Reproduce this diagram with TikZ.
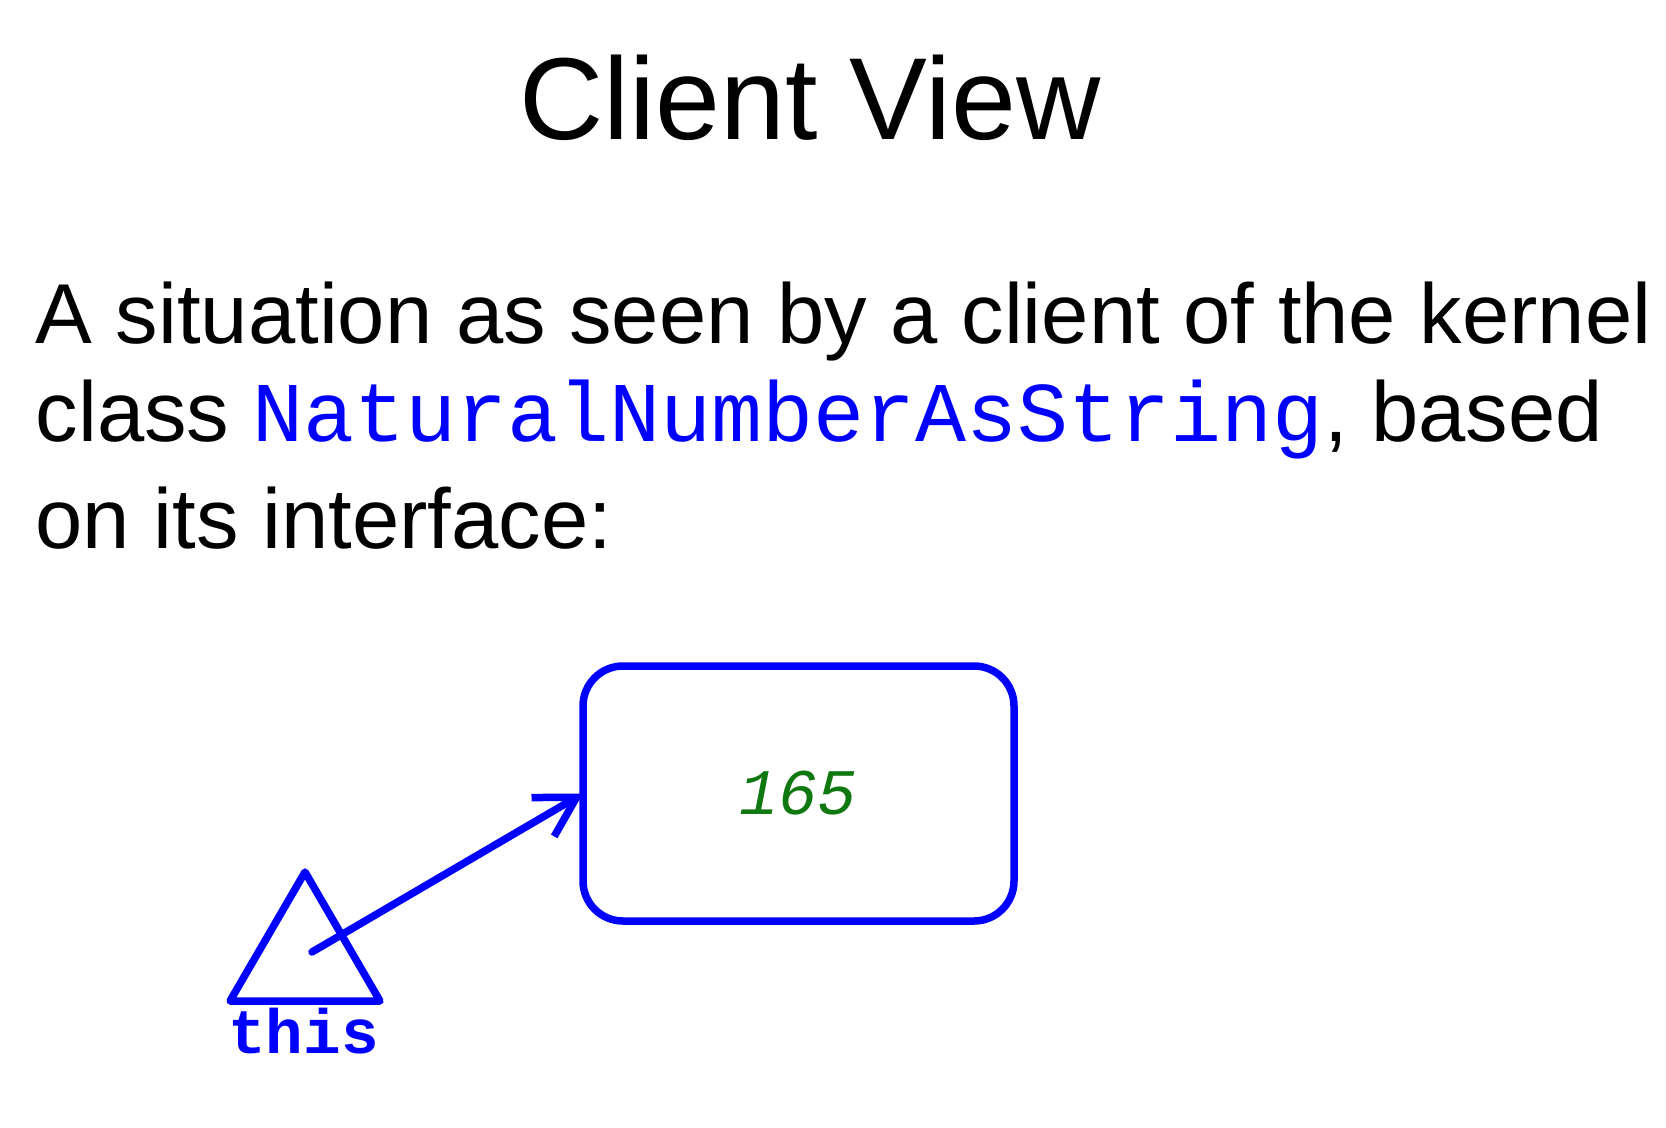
\documentclass[tikz,border=0pt]{standalone}
\usepackage{fontspec}
\setmainfont{Liberation Sans}
\setmonofont{Liberation Mono}
\usetikzlibrary{arrows.meta}
\definecolor{pblue}{RGB}{0,0,255}
\definecolor{pgreen}{RGB}{16,120,16}
\begin{document}
\begin{tikzpicture}[x=0.3pt,y=-0.3pt,
  bodytext/.style={anchor=base west,inner sep=0pt,font=\fontsize{25.5}{30}\selectfont},
  objbox/.style={draw=pblue,line width=2.25pt,rounded corners=12pt,minimum width=129.3pt,minimum height=76.5pt,outer sep=0pt,inner sep=0pt},
  refline/.style={draw=pblue,line width=2.25pt,line cap=round,line join=round}]
\useasboundingbox (0,0) rectangle (1666,1128);
\node[anchor=base,inner sep=0pt,font=\fontsize{35}{40}\selectfont] (title) at (810,139) {Client View};
\node[bodytext] (l1) at (35,343) {A situation as seen by a client of the kernel};
\node[bodytext] (l2) at (35,441) {class \textcolor{pblue}{\ttfamily NaturalNumberAsString}, based};
\node[bodytext] (l3) at (35,548) {on its interface:};
\node[objbox] (obj) at (798.5,793.5) {\textcolor{pgreen}{\ttfamily\itshape\fontsize{19.5}{22}\selectfont 165}};
\draw[refline] (305,872) -- (380,1001) -- (230,1001) -- cycle;
\coordinate (thisref) at (312,952);
\node[anchor=base,inner sep=0pt,text=pblue,font=\ttfamily\bfseries\fontsize{18.8}{20}\selectfont] (thislbl) at (303.5,1053) {this};
\draw[refline,-{Straight Barb[length=11.7pt,width=13.5pt]}] (thisref) -- (obj.west);
\end{tikzpicture}
\end{document}
